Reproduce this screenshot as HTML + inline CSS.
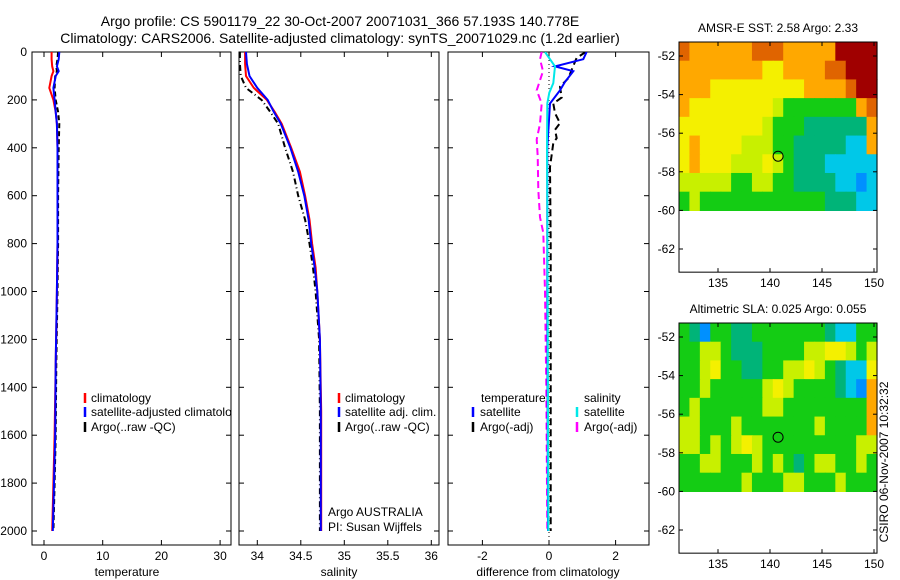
<!DOCTYPE html>
<html><head><meta charset="utf-8"><style>
body{margin:0;background:#fff;}
svg{display:block;font-family:"Liberation Sans",sans-serif;}
</style></head><body>
<svg id="c" width="900" height="580" viewBox="0 0 900 580">
<defs>
<clipPath id="cp1"><rect x="32" y="52" width="199" height="493"/></clipPath>
<clipPath id="cp2"><rect x="239" y="52" width="200" height="493"/></clipPath>
<clipPath id="cp3"><rect x="448" y="52" width="201" height="493"/></clipPath>
</defs>
<text x="340" y="26" text-anchor="middle" font-size="14">Argo profile: CS 5901179_22 30-Oct-2007 20071031_366 57.193S 140.778E</text>
<text x="340" y="43" text-anchor="middle" font-size="14">Climatology: CARS2006. Satellite-adjusted climatology: synTS_20071029.nc (1.2d earlier)</text>
<g id="g"></g>
</svg>
<script>
// ---- data ----
const tDepth = [0,30,60,80,100,150,200,250,300,400,600,800,1000,1300,1600,1800,2000];
const tClim  = [1.3,1.3,1.4,1.6,1.3,0.9,1.6,2.0,2.2,2.3,2.3,2.3,2.2,2.0,1.8,1.6,1.4];
const tSat   = [2.6,2.5,2.2,2.5,2.0,1.6,1.8,2.0,2.2,2.3,2.3,2.3,2.2,2.0,1.9,1.7,1.5];
const tArgo  = [2.4,2.3,2.1,2.2,1.9,1.8,2.0,2.4,2.6,2.5,2.4,2.4,2.3,2.1,2.0,1.8,1.6];
const sDepth = [0,50,100,150,200,250,300,400,500,600,700,800,900,1000,1200,1500,2000];
const sClim  = [33.86,33.86,33.87,33.96,34.11,34.2,34.28,34.39,34.49,34.55,34.6,34.63,34.67,34.69,34.72,34.735,34.735];
const sSat   = [33.87,33.88,33.91,34.0,34.12,34.19,34.27,34.38,34.47,34.54,34.59,34.62,34.66,34.69,34.72,34.73,34.73];
const sArgo  = [33.8,33.8,33.81,33.87,34.05,34.15,34.24,34.32,34.41,34.47,34.55,34.6,34.64,34.67,34.71,34.72,34.72];
const dTSatDepth = [0,30,60,80,125,160,215,400,1000,2000];
const dTSat      = [1.13,1.03,0.18,0.73,0.48,0.33,0.03,-0.05,-0.05,-0.03];
const dTArgoDepth = [0,25,75,110,145,190,215,255,297,325,360,380,480,800,1200,2000];
const dTArgo      = [1.1,0.83,0.68,0.58,0.33,0.38,0.13,0.18,0.33,0.18,0.23,0.13,0.03,0.05,0.05,0.05];
const dSSatDepth = [0,60,130,170,215,400,1000,2000];
const dSSat      = [-0.12,0.18,0.13,0.01,-0.05,-0.06,-0.04,-0.02];
const dSArgoDepth = [0,30,80,160,215,300,365,435,575,690,755,1000,1400,2000];
const dSArgo      = [-0.22,-0.27,-0.18,-0.37,-0.22,-0.27,-0.37,-0.34,-0.32,-0.27,-0.17,-0.12,-0.08,-0.05];
const depthTicks = [0,200,400,600,800,1000,1200,1400,1600,1800,2000];
const tTicks = [0,10,20,30];
const sTicks = [34,34.5,35,35.5,36];
const dTicks = [-2,0,2];
const latTicks = [-52,-54,-56,-58,-60,-62];
const lonTicks = [135,140,145,150];
const sstRows = [
"8777777888777779999",
"7777777766777788999",
"7776666666667777899",
"7666666665444444478",
"6666666654443333337",
"6766665554433333227",
"6766655565433322222",
"5555544554433332212",
"4544444444444433322"];
const slaRows = [
"4314433444444432244",
"4455433344445566545",
"4456443344556543226",
"4454444456544443217",
"4544444455444444447",
"5544454444444544447",
"5545456544444444455",
"4455444545434554454",
"4444445444554445444"];
const palette = ["#0000ff","#0090ff","#00c8e8","#00b478","#14cc14","#c8f000","#f4f000","#ffa800","#e06400","#a00000"];

// ---- drawing ----
const NS="http://www.w3.org/2000/svg";
const G=document.getElementById('g');
function mk(tag,attrs,parent){const e=document.createElementNS(NS,tag);for(const k in attrs)e.setAttribute(k,attrs[k]);(parent||G).appendChild(e);return e;}
const yD = d => 52 + d*0.2395;
const xT = v => 44 + v*5.87;
const xS = v => 257.3 + (v-34)*87;
const xDf = v => 549 + v*33.3;

function frame(x0,x1,name){
  const r=mk('rect',{x:x0,y:52,width:x1-x0,height:493,fill:'none',stroke:'#000','stroke-width':1});
  
  
  depthTicks.forEach(d=>{
    mk('line',{x1:x0,x2:x0+5,y1:yD(d),y2:yD(d),stroke:'#000'});
    mk('line',{x1:x1-5,x2:x1,y1:yD(d),y2:yD(d),stroke:'#000'});
  });
}
function xticks(ticks,f,name,label,lx){
  ticks.forEach(v=>{
    const x=f(v);
    mk('line',{x1:x,x2:x,y1:545,y2:540,stroke:'#000'});
    mk('line',{x1:x,x2:x,y1:52,y2:57,stroke:'#000'});
    const t=mk('text',{x:x,y:560,'text-anchor':'middle','font-size':12});
    t.textContent=v;
    
    
  });
  const t=mk('text',{x:lx,y:576,'text-anchor':'middle','font-size':12});
  t.textContent=label;
  
  
}
function line(depths,vals,fx,color,dash,clip,name,w){
  const p=mk('polyline',{points:depths.map((d,i)=>fx(vals[i]).toFixed(1)+','+yD(d).toFixed(1)).join(' '),fill:'none',stroke:color,'stroke-width':w||2,'clip-path':'url(#'+clip+')'});
  if(dash)p.setAttribute('stroke-dasharray',dash);
  
  
}
function legend(x,y,color,text,name){
  mk('line',{x1:x,x2:x,y1:y-9,y2:y+1,stroke:color,'stroke-width':2.5});
  const t=mk('text',{x:x+6,y:y,'font-size':12,'clip-path':'url(#cp1)'});
  t.textContent=text;
  
  
  return t;
}
function txt(x,y,s,name,extra){
  const t=mk('text',Object.assign({x:x,y:y,'font-size':12},extra||{}));
  t.textContent=s;
  
  
  return t;
}

// panel 1 temperature
frame(32,231,'temperature-panel');
depthTicks.forEach(d=>txt(27,yD(d)+4,d,'depth-tick-label',{'text-anchor':'end'}));
xticks(tTicks,xT,'temperature','temperature',127);
line(tDepth,tArgo,xT,'#000','5,3','cp1','temp-argo-line');
line(tDepth,tClim,xT,'#ff0000',null,'cp1','temp-climatology-line');
line(tDepth,tSat,xT,'#0000ff',null,'cp1','temp-satellite-line');
legend(85,402,'#ff0000','climatology','legend-climatology');
legend(85,416,'#0000ff','satellite-adjusted climatology','legend-satellite-adjusted');
legend(85,431,'#000','Argo(..raw -QC)','legend-argo-raw');

// panel 2 salinity
frame(239,439,'salinity-panel');
xticks(sTicks,xS,'salinity','salinity',339);
line(sDepth,sArgo,xS,'#000','6,3,1,3','cp2','sal-argo-line');
line(sDepth,sClim,xS,'#ff0000',null,'cp2','sal-climatology-line');
line(sDepth,sSat,xS,'#0000ff',null,'cp2','sal-satellite-line');
[['#ff0000','climatology','legend-sal-climatology',402],['#0000ff','satellite adj. clim.','legend-sal-satellite',416],['#000','Argo(..raw -QC)','legend-sal-argo',431]].forEach(a=>{
  mk('line',{x1:339,x2:339,y1:a[3]-9,y2:a[3]+1,stroke:a[0],'stroke-width':2.5});
  txt(345,a[3],a[1],a[2]);
});
txt(328,516,'Argo AUSTRALIA','argo-australia-label');
txt(328,531,'PI: Susan Wijffels','pi-label');

// panel 3 difference
frame(448,649,'difference-panel');
xticks(dTicks,xDf,'difference','difference from climatology',548);
const zl=mk('line',{x1:xDf(0),x2:xDf(0),y1:52,y2:545,stroke:'#000','stroke-dasharray':'1,3'});


line(dSArgoDepth,dSArgo,xDf,'#ff00ff','7,4','cp3','sal-diff-argo-line');
line(dTArgoDepth,dTArgo,xDf,'#000','7,4','cp3','temp-diff-argo-line');
line(dTSatDepth,dTSat,xDf,'#0000ff',null,'cp3','temp-diff-satellite-line');
line(dSSatDepth,dSSat,xDf,'#00e8e8',null,'cp3','sal-diff-satellite-line');
txt(481,402,'temperature','legend-temperature-header');
txt(584,402,'salinity','legend-salinity-header');
[['#0000ff','satellite',473,416,'legend-temp-satellite'],['#000','Argo(-adj)',473,431,'legend-temp-argo'],['#00e8e8','satellite',577,416,'legend-sal-satellite-diff'],['#ff00ff','Argo(-adj)',577,431,'legend-sal-argo-diff']].forEach(a=>{
  mk('line',{x1:a[2],x2:a[2],y1:a[3]-9,y2:a[3]+1,stroke:a[0],'stroke-width':2.5});
  txt(a[2]+7,a[3],a[1],a[4]);
});

// maps
function map(top,rows,title,name){
  const x0=679,x1=877,yTop=top,ppd=19.3;
  const yLat=l=>yTop+14+(-52-l)*ppd;
  const xLon=l=>718+(l-135)*10.4;
  const nRows=rows.length, nCols=rows[0].length;
  const yStart=yTop, yEnd=yLat(-60), ch=(yEnd-yStart)/nRows, cw=(x1-x0)/nCols;
  rows.forEach((row,ri)=>{
    for(let ci=0;ci<nCols;ci++){
      const r=mk('rect',{x:(x0+ci*cw).toFixed(2),y:(yStart+ri*ch).toFixed(2),width:(cw+0.6).toFixed(2),height:(ch+0.6).toFixed(2),fill:palette[+row[ci]]});
      
      
    }
  });
  const f=mk('rect',{x:x0,y:yTop,width:x1-x0,height:yLat(-63.2)-yTop,fill:'none',stroke:'#000'});
  
  
  latTicks.forEach(l=>{
    const y=yLat(l);
    mk('line',{x1:x0,x2:x0+4,y1:y,y2:y,stroke:'#000'});
    mk('line',{x1:x1-4,x2:x1,y1:y,y2:y,stroke:'#000'});
    txt(675,y+4,l,name+'-lat-label',{'text-anchor':'end'});
  });
  const yb=yLat(-63.2);
  lonTicks.forEach(l=>{
    const x=xLon(l);
    mk('line',{x1:x,x2:x,y1:yb,y2:yb-4,stroke:'#000'});
    mk('line',{x1:x,x2:x,y1:yTop,y2:yTop+4,stroke:'#000'});
    txt(x,yb+15,l,name+'-lon-label',{'text-anchor':'middle'});
  });
  const c=mk('circle',{cx:xLon(140.778),cy:yLat(-57.193),r:5,fill:'none',stroke:'#000'});
  
  
  txt(778,yTop-10,title,name+'-title',{'text-anchor':'middle'});
}
map(42,sstRows,'AMSR-E SST: 2.58 Argo: 2.33','sst-map');
map(323,slaRows,'Altimetric SLA: 0.025 Argo: 0.055','sla-map');
txt(0,0,'CSIRO 06-Nov-2007 10:32:32','timestamp-label',{transform:'translate(888,462) rotate(-90)','text-anchor':'middle'});
</script>
</body></html>
